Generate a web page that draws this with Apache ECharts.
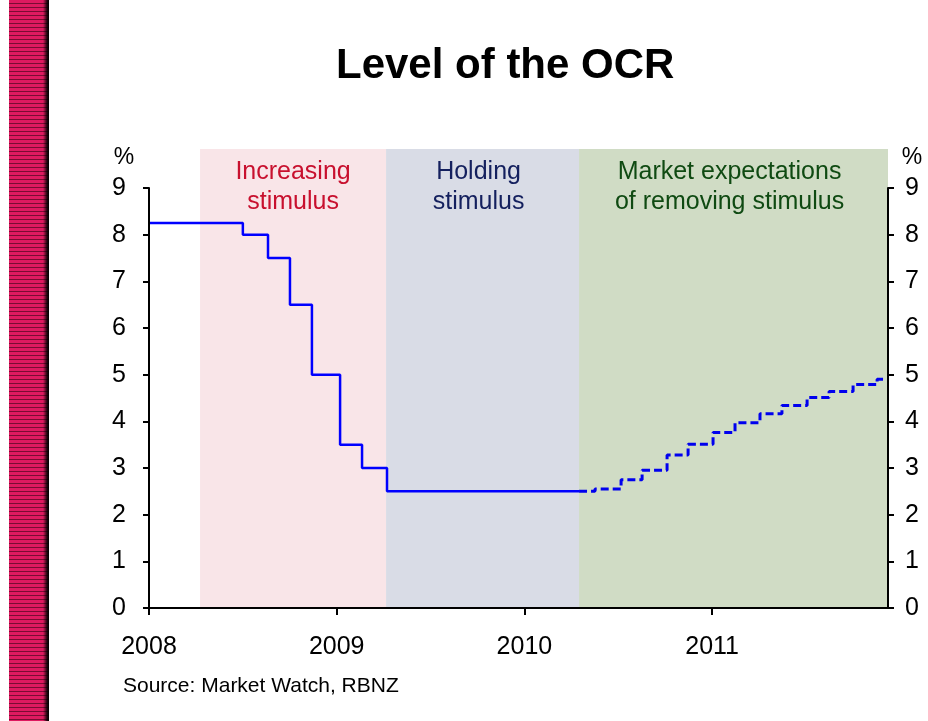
<!DOCTYPE html>
<html>
<head>
<meta charset="utf-8">
<script src="https://cdn.jsdelivr.net/npm/echarts@6/dist/echarts.min.js"></script>
<style>
  html, body { margin: 0; padding: 0; background: #ffffff; }
  #wrap { position: relative; width: 928px; height: 721px; }
  #stripe {
    position: absolute; left: 9px; top: 0; width: 40px; height: 721px;
    background:
      linear-gradient(to right, rgba(0,0,0,0) 0, rgba(0,0,0,0) 34px, rgba(0,0,0,0.85) 38px, #000 40px),
      repeating-linear-gradient(to bottom, #de1a60 0, #de1a60 2.6px, #7a0c33 2.6px, #7a0c33 4px);
  }
  #chart { position: absolute; left: 0; top: 0; width: 928px; height: 721px; }
</style>
</head>
<body>
<div id="wrap">
  <div id="stripe"></div>
  <div id="chart"></div>
</div>
<script>
// OCR 实际水平（阶梯），年份用小数表示
const actualDates = [2008.0, 2008.5, 2008.634, 2008.751, 2008.868, 2009.018, 2009.135, 2009.268, 2010.291]
const actualOcr = [8.25, 8.0, 7.5, 6.5, 5.0, 3.5, 3.0, 2.5, 2.5]

// 市场预期（虚线）
const expectDates = [2010.291, 2010.376, 2010.515, 2010.627, 2010.76, 2010.872, 2011.005, 2011.122, 2011.255, 2011.372, 2011.506, 2011.623, 2011.751, 2011.879, 2011.937]
const expectOcr = [2.5, 2.55, 2.75, 2.95, 3.28, 3.51, 3.76, 3.97, 4.16, 4.34, 4.51, 4.64, 4.79, 4.9, 4.9]

// 背景阶段
const phaseNames = ['Increasing\nstimulus', 'Holding\nstimulus', 'Market expectations\nof removing stimulus']
const phaseStart = [2008.272, 2009.263, 2010.291]
const phaseEnd = [2009.263, 2010.291, 2011.937]
const phaseFill = ['#f9e5e8', '#d9dce6', '#d0dcc5']
const phaseText = ['#c8102e', '#14205e', '#0f4a12']

const yearTicks = [2008, 2009, 2010, 2011]
const xMin = 2008
const xMax = 2011.937

const font = "'Liberation Sans', Arial, sans-serif"

const chartInstance = echarts.init(document.getElementById('chart'))

const toPairs = (xs, ys) => xs.map((x, i) => [x, ys[i]])

const yAxisBase = {
  type: 'value',
  gridIndex: 0,
  min: 0,
  max: 9,
  interval: 1,
  z: 10,
  splitLine: { show: false },
  axisLine: { show: true, lineStyle: { color: '#000', width: 2 } },
  axisTick: { show: true, length: 6, lineStyle: { color: '#000', width: 2 } },
  axisLabel: { color: '#000', fontSize: 25, fontFamily: font },
  name: '%',
  nameLocation: 'end',
  nameGap: 19,
  nameTextStyle: { color: '#000', fontSize: 23, fontFamily: font },
}

chartInstance.setOption({
  animation: false,
  title: [
    {
      text: 'Level of the OCR',
      left: 336,
      top: 45,
      padding: 0,
      textStyle: { fontSize: 42, fontWeight: 'bold', color: '#000', fontFamily: font },
    },
    {
      text: 'Source: Market Watch, RBNZ',
      left: 123,
      top: 676,
      padding: 0,
      textStyle: { fontSize: 21, fontWeight: 'normal', color: '#000', fontFamily: font },
    },
  ],
  // 主图和背景色块分别用一个 grid，色块比坐标轴高一截
  grid: [
    { left: 149, right: 40, top: 188, bottom: 113 },
    { left: 149, right: 40, top: 149, bottom: 113 },
  ],
  xAxis: [
    {
      type: 'value',
      gridIndex: 0,
      min: xMin,
      max: xMax,
      interval: 1,
      z: 10,
      splitLine: { show: false },
      axisLine: { lineStyle: { color: '#000', width: 2 } },
      axisTick: { length: 7, lineStyle: { color: '#000', width: 2 } },
      axisLabel: {
        color: '#000',
        fontSize: 25,
        fontFamily: font,
        margin: 27,
        showMaxLabel: false,
        formatter: (v) => (yearTicks.includes(Math.round(v * 1000) / 1000) ? String(v) : ''),
      },
    },
    { type: 'value', gridIndex: 1, min: xMin, max: xMax, show: false },
  ],
  yAxis: [
    {
      ...yAxisBase,
      position: 'left',
      axisLabel: { ...yAxisBase.axisLabel, margin: 23 },
      nameTextStyle: { ...yAxisBase.nameTextStyle, padding: [0, 50, 0, 0] },
    },
    {
      ...yAxisBase,
      position: 'right',
      axisLabel: { ...yAxisBase.axisLabel, margin: 17 },
      nameTextStyle: { ...yAxisBase.nameTextStyle, padding: [0, 0, 0, 48] },
    },
    { type: 'value', gridIndex: 1, min: 0, max: 1, show: false },
  ],
  series: [
    {
      name: 'phases',
      type: 'line',
      xAxisIndex: 1,
      yAxisIndex: 2,
      data: [],
      silent: true,
      z: -1,
      markArea: {
        silent: true,
        z: -1,
        data: phaseNames.map((name, i) => [
          {
            name,
            xAxis: phaseStart[i],
            itemStyle: { color: phaseFill[i] },
            label: {
              show: true,
              position: 'insideTop',
              distance: 8,
              offset: [i === 0 ? 0 : -4, 0],
              color: phaseText[i],
              fontSize: 25,
              lineHeight: 30,
              fontFamily: font,
              align: 'center',
            },
          },
          { xAxis: phaseEnd[i] },
        ]),
      },
    },
    {
      name: 'OCR',
      type: 'line',
      xAxisIndex: 0,
      yAxisIndex: 0,
      step: 'end',
      data: toPairs(actualDates, actualOcr),
      showSymbol: false,
      symbol: 'none',
      lineStyle: { color: '#0000ff', width: 2.5 },
      z: 5,
    },
    {
      name: 'Market',
      type: 'line',
      xAxisIndex: 0,
      yAxisIndex: 0,
      step: 'end',
      data: toPairs(expectDates, expectOcr),
      showSymbol: false,
      symbol: 'none',
      lineStyle: { color: '#0000ee', width: 3, type: [8, 4] },
      z: 5,
    },
  ],
})
</script>
</body>
</html>
